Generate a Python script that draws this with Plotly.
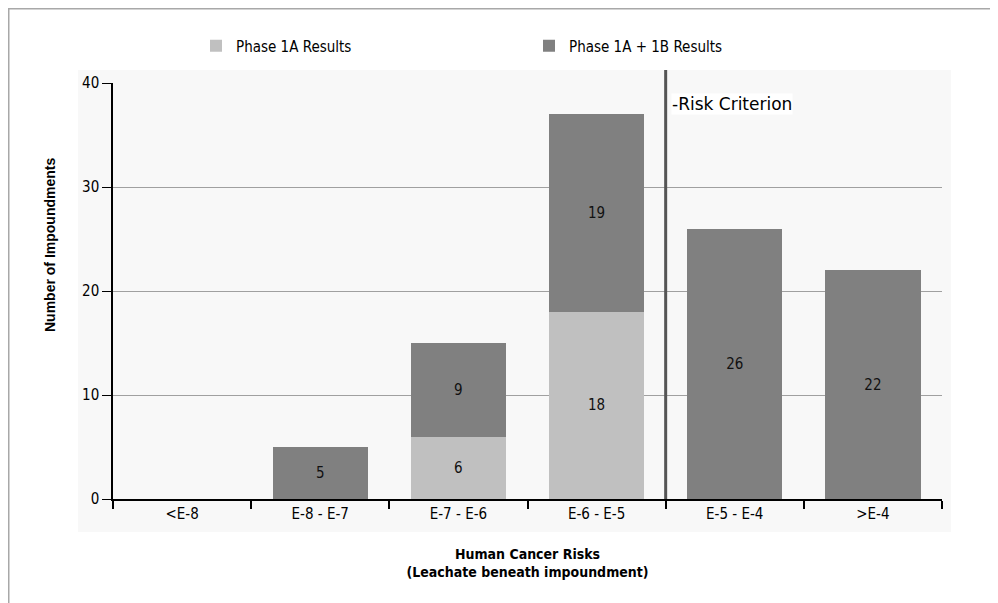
import plotly.graph_objects as go

categories = ["<E-8", "E-8 - E-7", "E-7 - E-6", "E-6 - E-5", "E-5 - E-4", ">E-4"]
phase_1a = [None, None, 6, 18, None, None]
phase_1b_added = [None, 5, 9, 19, 26, 22]
y_ticks = [0, 10, 20, 30, 40]
criterion_position = 3.5  # boundary between "E-6 - E-5" and "E-5 - E-4"

FONT = "DejaVu Sans Condensed, Liberation Sans Narrow, Liberation Sans, Arial, sans-serif"
LIGHT = "#c0c0c0"
DARK = "#808080"

OFF = 8  # page body margin
W, H = 990, 595
L, R, T, B = 105, 56, 75, 104
pw, ph = W - L - R, H - T - B


def px(page_x):
    return (page_x - OFF - L) / pw


def py(page_y):
    return (H - B - (page_y - OFF)) / ph


fig = go.Figure()
fig.add_trace(go.Bar(
    x=categories, y=phase_1a, name="Phase 1A Results",
    marker=dict(color=LIGHT, line=dict(width=0)),
    text=[str(v) if v else "" for v in phase_1a],
    textposition="inside", insidetextanchor="middle",
    textfont=dict(family=FONT, size=15, color="#111111"),
))
fig.add_trace(go.Bar(
    x=categories, y=phase_1b_added, name="Phase 1A + 1B Results",
    marker=dict(color=DARK, line=dict(width=0)),
    text=[str(v) if v else "" for v in phase_1b_added],
    textposition="inside", insidetextanchor="middle",
    textfont=dict(family=FONT, size=15, color="#111111"),
))

shapes = [
    dict(type="rect", xref="paper", yref="paper", x0=px(78), x1=px(951), y0=py(532), y1=py(70),
         fillcolor="#f8f8f8", line=dict(width=0), layer="below"),
    dict(type="line", xref="paper", yref="paper", x0=px(7), x1=px(1000), y0=py(8.5), y1=py(8.5),
         line=dict(color="#a8a8a8", width=2)),
    dict(type="line", xref="paper", yref="paper", x0=px(8.5), x1=px(8.5), y0=py(610), y1=py(7),
         line=dict(color="#a8a8a8", width=2)),
    dict(type="line", xref="x", yref="paper", x0=criterion_position, x1=criterion_position,
         y0=0, y1=py(70), line=dict(color="#555555", width=3), layer="above"),
]

annotations = [
    dict(text="-Risk Criterion", xref="x", yref="paper", x=criterion_position, y=py(104),
         xanchor="left", yanchor="middle", xshift=5, showarrow=False,
         font=dict(family="DejaVu Sans, Liberation Sans, Arial, sans-serif", size=17, color="#000000"),
         bgcolor="#ffffff", borderpad=0),
    dict(text="<b>Number of Impoundments</b>", xref="paper", yref="paper", x=px(50), y=py(245),
         textangle=-90, showarrow=False, xanchor="center", yanchor="middle",
         font=dict(family="Liberation Sans, Arial, sans-serif", size=14, color="#000000")),
]

fig.update_layout(
    width=W, height=H,
    margin=dict(l=L, r=R, t=T, b=B),
    paper_bgcolor="#ffffff", plot_bgcolor="#f8f8f8",
    barmode="stack", bargap=0.31,
    font=dict(family=FONT, size=15, color="#000000"),
    showlegend=True,
    legend=dict(orientation="h", x=px(196), xanchor="left", y=py(46), yanchor="middle",
                entrywidth=288, entrywidthmode="pixels", traceorder="normal",
                font=dict(family=FONT, size=15, color="#000000"), bgcolor="rgba(0,0,0,0)"),
    shapes=shapes, annotations=annotations,
    uniformtext=dict(minsize=15, mode="show"),
)
fig.update_xaxes(
    type="category", categoryorder="array", categoryarray=categories,
    showline=True, linecolor="#000000", linewidth=2,
    ticks="outside", tickson="boundaries", ticklen=8, tickcolor="#000000", tickwidth=1.5,
    showgrid=False, tickfont=dict(family=FONT, size=15),
    title=dict(text="<b>Human Cancer Risks</b><br><b>(Leachate beneath impoundment)</b>",
               font=dict(family=FONT, size=14), standoff=27),
)
fig.update_yaxes(
    range=[0, 40], tickvals=y_ticks, showline=True, linecolor="#000000", linewidth=1.5,
    ticks="outside", ticklen=9, tickcolor="#000000", tickwidth=1,
    showgrid=True, gridcolor="#a0a0a0", gridwidth=1, zeroline=False,
    tickfont=dict(family=FONT, size=15),
)

fig.write_html("out.html")
